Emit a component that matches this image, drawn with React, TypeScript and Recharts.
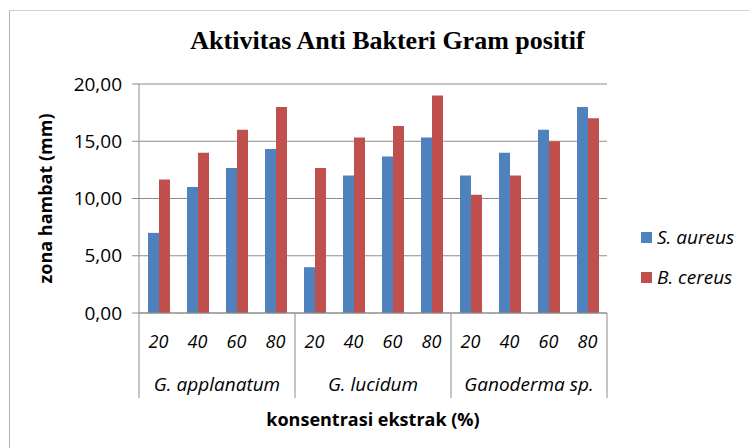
import { BarChart, Bar, XAxis, YAxis, CartesianGrid, Legend } from 'recharts'

const concentrations = ['20', '40', '60', '80', '20', '40', '60', '80', '20', '40', '60', '80']
const groups = ['G. applanatum', 'G. lucidum', 'Ganoderma sp.']
const sAureus = [7, 11, 12.67, 14.33, 4, 12, 13.67, 15.33, 12, 14, 16, 18]
const bCereus = [11.67, 14, 16, 18, 12.67, 15.33, 16.33, 19, 10.33, 12, 15, 17]
const yTicks = [0, 5, 10, 15, 20]

const data = concentrations.map((c, i) => ({
  conc: c,
  group: groups[Math.floor(i / 4)],
  sAureus: sAureus[i],
  bCereus: bCereus[i],
}))

const W = 749
const H = 448
const PLOT_LEFT = 139
const PLOT_RIGHT = 607
const PLOT_TOP = 84
const PLOT_BOTTOM = 313
const CAT_W = (PLOT_RIGHT - PLOT_LEFT) / concentrations.length
const SANS = '"Open Sans", sans-serif'
const BLUE = '#4f81bd'
const RED = '#c0504d'
const AXIS = '#8c8c8c'

const fmt = (v: number) => v.toFixed(2).replace('.', ',')

function ConcTick(props: any) {
  const { x, index } = props
  const top = PLOT_BOTTOM
  return (
    <g>
      <text x={x} y={top + 35} textAnchor="middle" fontFamily={SANS} fontStyle="italic" fontSize={18} fill="#000">
        {concentrations[index]}
      </text>
      {index % 4 === 0 && (
        <>
          <line x1={x - CAT_W / 2} x2={x - CAT_W / 2} y1={top} y2={top + 85} stroke={AXIS} />
          <text x={x + CAT_W * 1.5} y={top + 78} textAnchor="middle" fontFamily={SANS} fontStyle="italic" fontSize={19} fill="#000">
            {groups[index / 4]}
          </text>
        </>
      )}
      {index === concentrations.length - 1 && (
        <line x1={x + CAT_W / 2} x2={x + CAT_W / 2} y1={top} y2={top + 85} stroke={AXIS} />
      )}
    </g>
  )
}

function LegendBox() {
  const items = [
    { name: 'S. aureus', color: BLUE },
    { name: 'B. cereus', color: RED },
  ]
  return (
    <div style={{ fontFamily: SANS, fontStyle: 'italic', fontSize: 19 }}>
      {items.map((it) => (
        <div key={it.name} style={{ display: 'flex', alignItems: 'center', height: 20, marginBottom: 20 }}>
          <span style={{ width: 11, height: 11, background: it.color, marginRight: 5, display: 'inline-block' }} />
          <span>{it.name}</span>
        </div>
      ))}
    </div>
  )
}

export default function App() {
  return (
    <div style={{ position: 'fixed', left: 0, top: 0, width: W, height: H, background: '#fff', overflow: 'hidden' }}>
      <div
        style={{
          position: 'absolute',
          left: 9,
          top: 10,
          width: W,
          height: H,
          borderLeft: '1px solid #b4b4b4',
          borderTop: '1px solid #d0d0d0',
        }}
      />
      <div
        style={{
          position: 'absolute',
          left: 0,
          top: 26,
          width: 775,
          textAlign: 'center',
          fontFamily: '"Liberation Serif", serif',
          fontWeight: 'bold',
          fontSize: 26,
        }}
      >
        Aktivitas Anti Bakteri Gram positif
      </div>
      <div style={{ position: 'absolute', left: 0, top: 0 }}>
        <BarChart
          width={W}
          height={H}
          data={data}
          margin={{ top: PLOT_TOP, right: W - PLOT_RIGHT, bottom: 35, left: 39 }}
          barSize={11}
          barGap={0}
        >
          <CartesianGrid vertical={false} stroke={AXIS} />
          <XAxis
            dataKey="conc"
            height={H - 35 - PLOT_BOTTOM}
            interval={0}
            tick={<ConcTick />}
            tickLine={false}
            axisLine={{ stroke: AXIS }}
            label={{
              content: () => (
                <text
                  x={(PLOT_LEFT + PLOT_RIGHT) / 2}
                  y={PLOT_BOTTOM + 113}
                  textAnchor="middle"
                  fontFamily={SANS}
                  fontWeight="bold"
                  fontSize={18}
                  fill="#000"
                >
                  konsentrasi ekstrak (%)
                </text>
              ),
            }}
          />
          <YAxis
            width={PLOT_LEFT - 39}
            domain={[0, 20]}
            ticks={yTicks}
            tickFormatter={fmt}
            tickSize={7}
            tickMargin={10}
            tick={{ fontFamily: SANS, fontSize: 19, fill: '#000' }}
            tickLine={{ stroke: AXIS }}
            axisLine={{ stroke: AXIS }}
            label={{
              content: () => (
                <text
                  x={52}
                  y={(PLOT_TOP + PLOT_BOTTOM) / 2}
                  transform={`rotate(-90 52 ${(PLOT_TOP + PLOT_BOTTOM) / 2})`}
                  textAnchor="middle"
                  fontFamily={SANS}
                  fontWeight="bold"
                  fontSize={18}
                  fill="#000"
                >
                  zona hambat (mm)
                </text>
              ),
            }}
          />
          <Legend
            layout="vertical"
            verticalAlign="middle"
            align="center"
            wrapperStyle={{ left: 641, top: 227, width: 110 }}
            content={<LegendBox />}
          />
          <Bar dataKey="sAureus" name="S. aureus" fill={BLUE} isAnimationActive={false} />
          <Bar dataKey="bCereus" name="B. cereus" fill={RED} isAnimationActive={false} />
        </BarChart>
      </div>
    </div>
  )
}
